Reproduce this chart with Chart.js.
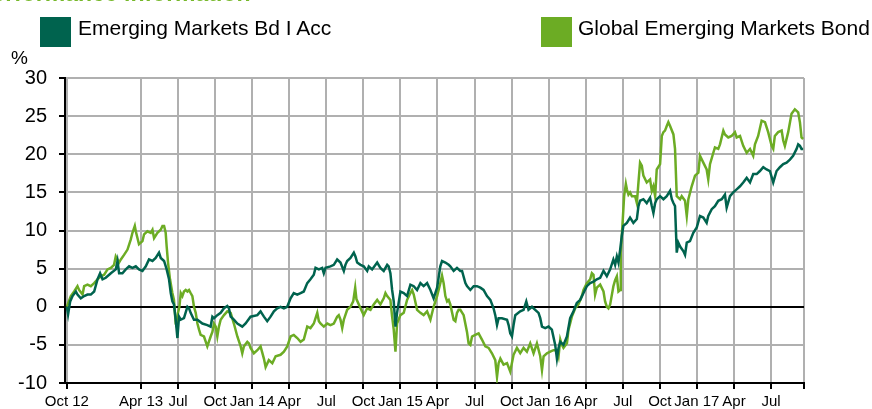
<!DOCTYPE html>
<html>
<head>
<meta charset="utf-8">
<script src="https://cdn.jsdelivr.net/npm/chart.js@4/dist/chart.umd.min.js"></script>
<style>
html,body{margin:0;padding:0;background:#fff;}
#wrap{position:relative;width:872px;height:409px;overflow:hidden;font-family:'Liberation Sans',Arial,Helvetica,sans-serif;}
#c{position:absolute;left:0;top:0;}
.title{position:absolute;left:-23px;top:-18px;font-size:23px;line-height:23px;font-weight:bold;color:#76b82a;white-space:nowrap;}
.lbox{position:absolute;top:17px;width:31px;height:30px;}
.ltxt{position:absolute;top:17px;font-size:21px;line-height:21px;color:#000;white-space:nowrap;}
.unit{position:absolute;left:11px;top:48px;font-size:19px;line-height:20px;color:#000;}
</style>
</head>
<body>
<div id="wrap">
  <canvas id="c" width="872" height="409"></canvas>
  <div class="title">Performance information</div>
  <div class="unit">%</div>
  <div id="legend"></div>
</div>
<script>
// ---- data (x = months since Oct 2012, y = cumulative performance in %) ----
const seriesNames = ['Emerging Markets Bd I Acc', 'Global Emerging Markets Bond'];
const seriesColors = ['#00634e', '#6cac24'];

const fundPoints = [
[0,0],[0.1,-1.0],[0.27,0.7],[0.46,1.4],[0.73,2.0],[0.86,1.6],[1.13,1.1],[1.4,1.4],[1.67,1.6],[1.94,1.6],[2.21,2.0],[2.48,3.6],[2.69,4.4],[2.89,3.6],[3.15,3.8],[3.56,4.4],[3.96,4.9],[4.1,6.0],[4.23,4.4],[4.5,4.4],[4.77,4.9],[5.04,5.3],[5.31,5.1],[5.58,5.3],[5.84,4.9],[6.12,4.7],[6.39,5.3],[6.65,6.2],[6.93,6.0],[7.19,6.4],[7.46,7.1],[7.6,6.4],[7.87,6.0],[8.08,4.9],[8.27,3.6],[8.41,1.8],[8.54,0.7],[8.67,0.3],[8.81,-1.7],[8.95,-4.1],[9.08,-1.3],[9.22,-1.7],[9.48,-1.5],[9.76,0.0],[9.89,-0.2],[10.02,-0.8],[10.29,-1.7],
[10.57,-1.7],[10.97,-2.2],[11.37,-2.4],[11.64,-2.6],[11.78,-1.3],[11.91,-1.5],[12.18,-1.1],[12.45,-0.8],[12.72,-0.2],[12.99,0.1],[13.12,-0.2],[13.26,-1.3],[13.52,-1.7],[13.8,-2.2],[14.2,-2.6],[14.47,-2.2],[14.87,-1.3],[15.42,-1.1],[15.68,-0.6],[15.95,-1.3],[16.22,-1.9],[16.49,-1.3],[16.76,-0.6],[17.03,-0.2],[17.3,0.0],[17.57,-0.2],[17.84,0.0],[18.11,1.1],[18.37,1.8],[18.65,1.6],[18.92,1.8],[19.18,2.0],[19.46,3.1],[19.72,3.6],[19.99,4.2],[20.13,5.1],[20.4,4.9],[20.67,5.1],[20.8,4.4],[20.94,5.1],[21.34,5.3],[21.61,5.5],[21.88,6.2],[22.15,5.8],[22.42,4.7],[22.55,5.5],[22.69,6.0],[22.96,6.4],[23.23,7.1],[23.36,6.6],[23.5,5.8],[23.77,5.5],
[24.03,5.3],[24.31,4.7],[24.44,5.3],[24.71,4.9],[25.12,5.8],[25.38,5.1],[25.65,4.7],[25.93,5.5],[26.05,5.3],[26.19,4.4],[26.33,2.2],[26.46,0.7],[26.6,-2.6],[26.73,-0.8],[27.0,2.0],[27.27,1.8],[27.54,1.4],[27.81,2.9],[28.08,2.7],[28.35,2.2],[28.62,3.1],[28.88,2.7],[29.16,3.1],[29.43,2.2],[29.69,1.1],[29.97,2.5],[30.23,5.3],[30.37,6.0],[30.64,5.8],[30.91,5.5],
[31.04,5.3],[31.31,4.7],[31.58,5.1],[31.85,4.7],[31.99,4.7],[32.26,3.1],[32.39,2.7],[32.66,2.2],[32.93,2.7],[33.2,2.7],[33.47,2.5],[33.73,2.2],[34.01,1.4],[34.28,0.9],[34.54,-0.2],[34.68,-1.1],[34.82,-2.4],[34.95,-1.5],[35.22,-1.5],[35.63,-1.7],[35.76,-2.4],[35.89,-3.5],[36.03,-3.9],[36.16,-2.4],[36.3,-1.1],[36.7,-0.6],[36.97,-0.4],[37.19,0.7],[37.37,-0.4],[37.65,0.0],[37.91,-0.4],[38.18,-0.8],[38.32,-1.5],[38.46,-2.6],[38.72,-2.8],[38.99,-2.6],[39.26,-3.0],[39.53,-5.0],[39.67,-6.8],[39.8,-5.4],[39.94,-4.6],[40.2,-5.0],[40.48,-3.9],[40.74,-1.5],[41.01,-0.6],[41.28,0.5],[41.55,0.9],[41.82,1.8],[42.09,2.7],[42.36,3.1],[42.63,3.3],[42.9,3.6],
[43.17,3.8],[43.44,4.7],[43.71,4.0],[43.98,4.9],[44.24,6.2],[44.38,5.5],[44.52,6.6],[44.65,5.8],[44.79,7.5],[44.92,9.3],[45.05,10.6],[45.33,11.0],[45.59,11.7],[45.86,11.0],[46.14,11.5],[46.27,13.2],[46.4,13.9],[46.67,14.1],[46.94,13.6],[47.21,14.3],[47.35,13.2],[47.48,12.3],[47.62,13.6],[47.75,14.1],[48.02,14.5],[48.29,14.1],[48.56,14.5],[48.83,15.2],[48.97,14.1],[49.1,13.6],[49.23,13.2],[49.37,7.1],[49.5,8.4],[49.64,7.9],[49.9,7.3],[50.04,6.8],[50.18,8.4],[50.44,8.6],[50.71,9.7],[50.99,10.4],[51.25,11.9],[51.52,11.7],[51.79,11.0],[51.92,11.9],[52.2,12.8],[52.46,13.2],[52.73,13.9],[53.01,14.1],[53.27,14.7],[53.41,13.0],[53.68,14.5],[53.94,15.0],[54.22,15.4],[54.49,15.8],[54.75,16.3],[55.03,16.9],[55.3,16.3],[55.56,17.4],[55.84,17.4],[56.1,17.8],[56.37,18.3],[56.64,18.0],[56.91,17.8],[57.18,16.3],[57.45,17.8],[57.72,18.3],[57.99,18.7],[58.26,18.9],[58.53,19.3],[58.79,19.8],[59.07,20.7],[59.2,21.3],[59.34,21.1],[59.47,20.7],[59.6,20.7]
];

const benchPoints = [
[0,0],[0.32,1.4],[0.59,2.0],[0.86,2.7],[0.99,2.2],[1.27,1.6],[1.4,2.7],[1.67,2.9],[1.94,2.7],[2.21,3.1],[2.48,3.6],[2.75,4.0],[3.02,4.2],[3.29,4.9],[3.56,5.1],[3.82,5.5],[3.96,6.6],[4.23,5.8],[4.37,6.2],[4.63,6.8],[4.91,7.5],[5.17,8.8],[5.31,9.7],[5.5,10.6],[5.58,9.9],[5.84,8.2],[6.12,8.6],[6.25,9.5],[6.52,9.9],[6.79,9.7],[6.93,10.1],[7.06,9.0],[7.33,9.7],[7.6,10.1],[7.74,10.6],[7.87,10.6],[8.0,9.7],[8.08,7.9],[8.19,5.8],[8.35,3.6],[8.54,1.8],[8.67,0.9],[8.81,-2.2],[8.89,-2.6],[9.0,-0.8],[9.11,0.0],[9.22,1.8],[9.35,1.4],[9.48,2.0],[9.62,2.2],[9.76,2.0],[9.89,2.2],[10.02,1.8],[10.16,1.4],[10.29,0.0],[10.43,-0.8],[10.57,-2.2],[10.7,-3.0],[10.83,-3.7],[11.1,-3.9],[11.37,-5.2],[11.64,-3.9],[11.78,-3.3],[11.91,-2.2],[12.05,-2.6],[12.18,-3.9],[12.31,-2.6],[12.45,-1.7],[12.72,-1.1],[12.99,-0.6],[13.26,-0.8],[13.52,-2.2],[13.8,-3.9],[14.07,-5.2],[14.2,-6.1],[14.33,-5.2],[14.61,-4.6],[14.74,-4.8],[14.87,-5.4],[15.14,-6.1],[15.42,-5.7],[15.68,-5.2],[15.95,-6.8],[16.09,-7.9],[16.35,-7.0],[16.63,-7.4],[16.9,-6.5],[17.3,-6.3],[17.57,-5.9],[17.84,-5.2],[18.11,-3.9],[18.37,-3.7],[18.65,-4.1],[18.92,-4.6],[19.18,-4.3],[19.46,-2.6],[19.72,-2.8],[19.99,-2.2],
[20.27,-0.8],[20.4,-1.9],[20.53,-2.2],[20.8,-2.6],[21.08,-2.2],[21.34,-2.4],[21.61,-2.2],[21.88,-1.3],[22.01,-1.1],[22.15,-1.7],[22.29,-2.8],[22.42,-1.7],[22.69,-0.4],[22.96,0.0],[23.18,0.7],[23.34,2.5],[23.44,1.0],[23.77,-0.2],[24.03,-1.1],[24.31,-0.2],[24.58,-0.4],[24.84,0.3],[25.12,0.9],[25.38,0.3],[25.65,1.1],[25.79,1.8],[25.93,1.4],[26.19,0.9],[26.33,-1.3],[26.46,-3.0],[26.6,-5.9],[26.73,-2.2],[27.0,-1.1],[27.27,-0.8],[27.54,0.9],[27.81,1.8],[27.95,2.2],[28.08,1.6],[28.35,-0.4],[28.62,-0.8],[28.88,-1.1],[29.16,-0.6],[29.43,-1.7],[29.69,0.0],[29.97,1.4],[30.23,3.1],[30.37,4.1],[30.5,3.1],[30.64,1.4],[30.78,0.7],[30.91,0.9],[31.04,0.3],[31.31,-1.7],[31.45,-1.9],[31.58,-0.8],[31.71,-0.4],[31.85,-0.4],[32.12,-1.1],[32.39,-3.3],[32.52,-4.8],[32.66,-5.0],[32.8,-3.9],[33.06,-3.7],[33.33,-3.5],[33.6,-4.3],[33.87,-5.2],[34.14,-5.4],[34.41,-6.1],[34.68,-7.0],[34.82,-9.2],[34.95,-7.4],[35.09,-6.8],[35.35,-7.6],[35.63,-7.4],[35.89,-8.5],[36.16,-6.3],[36.43,-5.4],[36.7,-6.1],[36.97,-5.4],[37.24,-5.9],[37.51,-4.8],[37.78,-6.1],[38.05,-4.8],[38.32,-6.5],[38.46,-8.3],[38.59,-6.5],[38.86,-6.1],[39.13,-5.9],[39.39,-5.7],[39.67,-5.7],[39.8,-6.5],[39.94,-4.3],[40.07,-5.0],[40.2,-5.4],[40.48,-4.8],[40.61,-3.0],[40.88,-1.3],[41.15,-0.2],[41.41,0.3],[41.69,1.4],[41.82,2.2],[42.09,3.1],[42.36,3.6],[42.5,4.4],[42.63,4.2],[42.76,1.6],[42.9,2.5],
[43.17,2.9],[43.44,2.0],[43.57,0.7],[43.71,0.0],[43.84,-0.2],[43.98,0.3],[44.24,2.7],[44.38,3.5],[44.52,4.0],[44.65,2.0],[44.79,2.2],[44.84,7.1],[44.97,10.6],[45.11,14.5],[45.25,16.1],[45.33,15.4],[45.46,14.7],[45.59,15.0],[45.74,14.5],[46.0,14.5],[46.14,13.6],[46.27,16.3],[46.4,18.9],[46.54,18.5],[46.67,17.2],[46.94,16.3],[47.21,16.7],[47.35,15.2],[47.48,15.8],[47.62,14.5],[47.75,18.0],[48.02,18.7],[48.16,22.4],[48.29,22.9],[48.42,23.1],[48.56,23.7],[48.69,24.2],[48.83,23.7],[49.1,22.6],[49.23,20.7],[49.37,14.5],[49.64,14.1],[49.77,14.5],[50.04,13.9],[50.18,11.9],[50.31,14.1],[50.58,15.8],[50.85,17.2],[51.12,17.6],[51.25,19.8],[51.52,18.9],[51.79,18.0],[51.92,16.7],[52.06,18.7],[52.33,20.2],[52.46,20.9],[52.73,20.7],[52.87,21.3],[53.14,23.1],[53.27,22.6],[53.54,22.2],[53.81,22.4],[54.08,22.9],[54.22,22.2],[54.49,22.4],[54.75,21.1],[55.03,20.2],[55.3,20.7],[55.56,19.8],[55.7,21.3],[55.96,22.4],[56.24,24.4],[56.51,24.2],[56.77,22.9],[57.05,21.1],[57.18,20.7],[57.31,22.4],[57.58,22.9],[57.86,23.1],[57.99,21.8],[58.12,21.1],[58.39,22.9],[58.66,25.3],[58.93,25.9],[59.2,25.5],[59.34,24.2],[59.47,22.2],[59.6,22.0]
];

const tickMonths = [0, 6, 9, 12, 15, 18, 21, 24, 27, 30, 33, 36, 39, 42, 45, 48, 51, 54, 57];
const tickLabels = ['Oct 12', 'Apr 13', 'Jul', 'Oct', 'Jan 14', 'Apr', 'Jul', 'Oct', 'Jan 15', 'Apr', 'Jul', 'Oct', 'Jan 16', 'Apr', 'Jul', 'Oct', 'Jan 17', 'Apr', 'Jul'];
const xMin = -0.15, xMax = 59.67;
const yMin = -10, yMax = 30, yStep = 5;

// ---- legend (HTML) ----
const FONT = "'Liberation Sans', Arial, Helvetica, sans-serif";
const legendPos = [[40, 78], [541, 578]];
const lg = document.getElementById('legend');
seriesNames.forEach((name, i) => {
  const b = document.createElement('div');
  b.className = 'lbox'; b.style.left = legendPos[i][0] + 'px'; b.style.background = seriesColors[i];
  const t = document.createElement('div');
  t.className = 'ltxt'; t.style.left = legendPos[i][1] + 'px'; t.textContent = name;
  lg.appendChild(b); lg.appendChild(t);
});

const toXY = pts => pts.map(p => ({x: p[0], y: p[1]}));
const GRID = '#b0b0b0';

new Chart(document.getElementById('c'), {
  type: 'line',
  data: {
    datasets: [
      {label: seriesNames[0], data: toXY(fundPoints), borderColor: seriesColors[0], borderWidth: 2.5, pointRadius: 0, tension: 0, fill: false},
      {label: seriesNames[1], data: toXY(benchPoints), borderColor: seriesColors[1], borderWidth: 2.5, pointRadius: 0, tension: 0, fill: false}
    ]
  },
  options: {
    responsive: false,
    devicePixelRatio: 1,
    animation: false,
    events: [],
    layout: {padding: {top: 78, right: 68, bottom: 0, left: 0}},
    plugins: {legend: {display: false}, tooltip: {enabled: false}, title: {display: false}},
    scales: {
      x: {
        type: 'linear', min: xMin, max: xMax,
        afterBuildTicks: s => { s.ticks = tickMonths.map(v => ({value: v})).concat([{value: xMax}]); },
        afterFit: s => { s.height = 26; },
        ticks: {
          autoSkip: false, maxRotation: 0, minRotation: 0, padding: 4, color: '#000',
          font: {size: 15, family: FONT},
          callback: (v, i) => (i < tickLabels.length ? tickLabels[i] : '')
        },
        grid: {color: GRID, lineWidth: 2, tickColor: '#000', tickLength: 6, drawTicks: true},
        border: {color: '#000', width: 2}
      },
      y: {
        min: yMin, max: yMax,
        afterFit: s => { s.width = 65; },
        ticks: {stepSize: yStep, padding: 12, color: '#000', font: {size: 20, family: FONT}},
        grid: {
          color: c => (c.tick && (c.tick.value === 0 || c.tick.value === yMin)) ? '#000' : GRID,
          lineWidth: 2, tickColor: '#000', tickLength: 6, drawTicks: true
        },
        border: {color: '#000', width: 2}
      }
    }
  }
});
</script>
</body>
</html>
